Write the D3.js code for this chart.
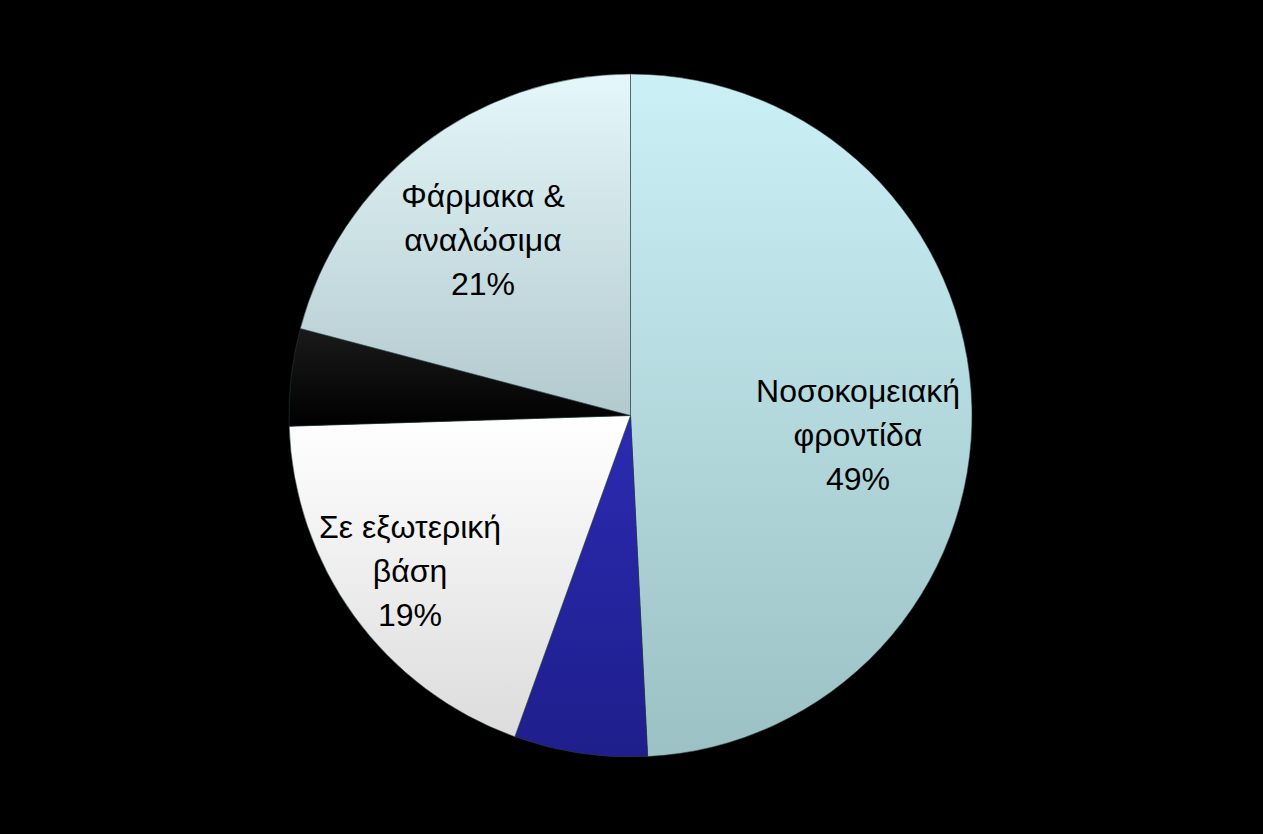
<!DOCTYPE html>
<html>
<head>
<meta charset="utf-8">
<script src="https://cdn.jsdelivr.net/npm/d3@7"></script>
<style>
html,body{margin:0;padding:0;background:#000;}
svg{display:block;}
</style>
</head>
<body>
<svg id="chart" width="1263" height="834"></svg>
<script>
// Data (clockwise from 12 o'clock)
const categories = ["Νοσοκομειακή φροντίδα", "", "Σε εξωτερική βάση", "", "Φάρμακα & αναλώσιμα"];
const labelLines = [["Νοσοκομειακή", "φροντίδα"], [], ["Σε εξωτερική", "βάση"], [], ["Φάρμακα &", "αναλώσιμα"]];
const values = [49.2, 6.3, 19.0, 4.6, 20.9];
const percentLabels = ["49%", "", "19%", "", "21%"];

const colorsTop = ["#cbf0f5", "#2b2bb2", "#ffffff", "#1a1a1a", "#e4f7fa"];
const colorsBottom = ["#9bc1c5", "#1e1e8c", "#dcdcdc", "#000000", "#b2c9cd"];

const W = 1263, H = 834;
const cx = 630.5, cy = 415.5, R = 341.5;

const svg = d3.select("#chart");
svg.append("rect").attr("width", W).attr("height", H).attr("fill", "#000");

const defs = svg.append("defs");
values.forEach((v, i) => {
  const g = defs.append("linearGradient").attr("id", "grad" + i)
    .attr("x1", 0).attr("y1", 0).attr("x2", 0).attr("y2", 1);
  g.append("stop").attr("offset", "0%").attr("stop-color", colorsTop[i]);
  g.append("stop").attr("offset", "100%").attr("stop-color", colorsBottom[i]);
});

const pie = d3.pie().sort(null).value(d => d);
const arcs = pie(values);
const arc = d3.arc().innerRadius(0).outerRadius(R);

const gPie = svg.append("g").attr("transform", `translate(${cx},${cy})`);
gPie.selectAll("path.slice").data(arcs).enter().append("path")
  .attr("class", "slice")
  .attr("d", arc)
  .attr("fill", (d, i) => `url(#grad${i})`)
  .attr("stroke", "rgba(40,60,65,0.55)")
  .attr("stroke-width", 1);

// Labels
const labelPos = [[858, 391], null, [410, 527], null, [483, 196]];
const lineH = 44;
arcs.forEach((d, i) => {
  if (!labelPos[i]) return;
  const lines = labelLines[i].concat([percentLabels[i]]);
  const t = svg.append("text")
    .attr("x", labelPos[i][0]).attr("y", labelPos[i][1])
    .attr("text-anchor", "middle")
    .attr("font-family", "'Liberation Sans', Arial, sans-serif")
    .attr("font-size", 32)
    .attr("fill", "#000");
  lines.forEach((ln, k) => {
    t.append("tspan").attr("x", labelPos[i][0]).attr("y", labelPos[i][1] + k * lineH)
      .attr("dominant-baseline", "central").text(ln);
  });
});
</script>
</body>
</html>
